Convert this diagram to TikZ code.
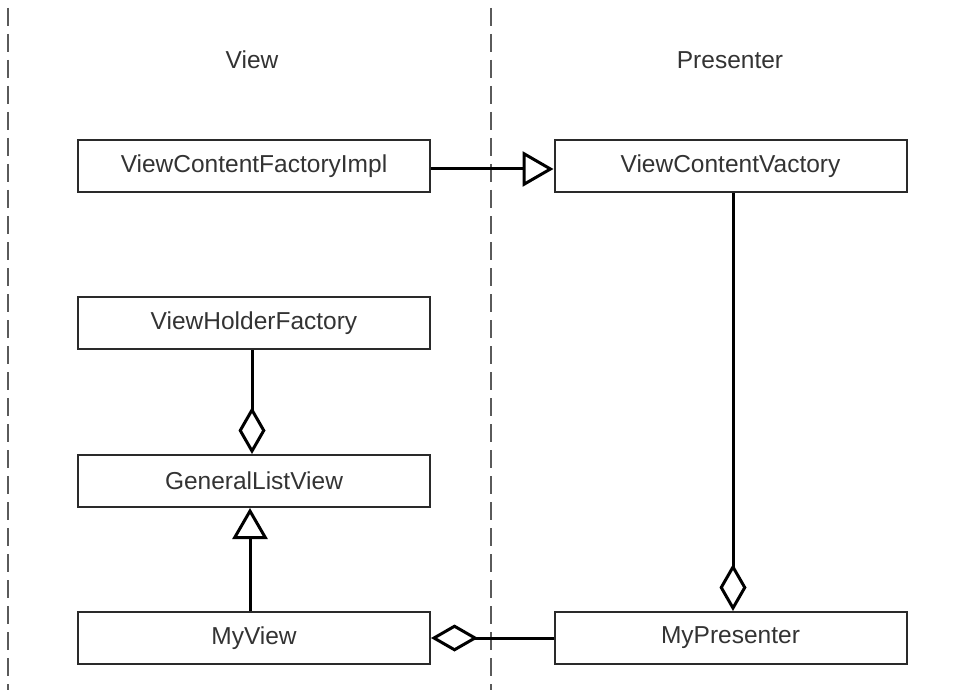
\documentclass[tikz,border=0pt]{standalone}
\usepackage{fontspec}
\setmainfont{Liberation Sans}
\usetikzlibrary{arrows.meta}
\definecolor{txt}{HTML}{333333}
\definecolor{edge}{HTML}{2A2A2A}
\definecolor{lane}{HTML}{5A5A5A}
\tikzset{
  box/.style={draw=edge, line width=2pt, fill=white, minimum width=352pt, minimum height=52pt, inner sep=0pt, text=txt, font=\fontsize{24.5}{28}\selectfont},
  lanelabel/.style={text=txt, font=\fontsize{24.5}{28}\selectfont, inner sep=0pt},
  conn/.style={draw=black, line width=3pt},
  inherit/.style={conn, -{Triangle[open, length=31pt, width=35pt, line width=3pt]}},
  aggr/.style={conn, -{Diamond[open, length=47pt, width=27pt, line width=3pt]}},
  laneline/.style={draw=lane, line width=2.5pt, dash pattern=on 18pt off 8pt}
}
\begin{document}
\begin{tikzpicture}[x=1pt, y=-1pt]
\fill[white] (0,0) rectangle (959,690);
\useasboundingbox (0,0) rectangle (959,690);
\coordinate (l1top) at (8,8);
\coordinate (l1bot) at (8,690);
\coordinate (l2top) at (491,8);
\coordinate (l2bot) at (491,690);
\draw[laneline] (l1top) -- (l1bot);
\draw[laneline] (l2top) -- (l2bot);
\node[lanelabel] (viewlbl) at (252,60) {View};
\node[lanelabel] (presl) at (730,60) {Presenter};
\node[box] (impl) at (254,166) {ViewContentFactoryImpl};
\node[box] (vcf) at (730.5,166) {ViewContentVactory};
\node[box] (vhf) at (254,323) {ViewHolderFactory};
\node[box] (glv) at (254,481) {GeneralListView};
\node[box] (myview) at (254,638) {MyView};
\node[box] (mypres) at (730.5,638) {MyPresenter};
\draw[inherit] ([yshift=-3pt]impl.east) -- ([yshift=-3pt]vcf.west);
\draw[aggr] ([xshift=2.5pt]vcf.south) -- ([xshift=2.5pt]mypres.north);
\draw[aggr] ([xshift=-2pt]vhf.south) -- ([xshift=-2pt]glv.north);
\draw[inherit] ([xshift=-4pt]myview.north) -- ([xshift=-4pt]glv.south);
\draw[aggr] (mypres.west) -- (myview.east);
\end{tikzpicture}
\end{document}
